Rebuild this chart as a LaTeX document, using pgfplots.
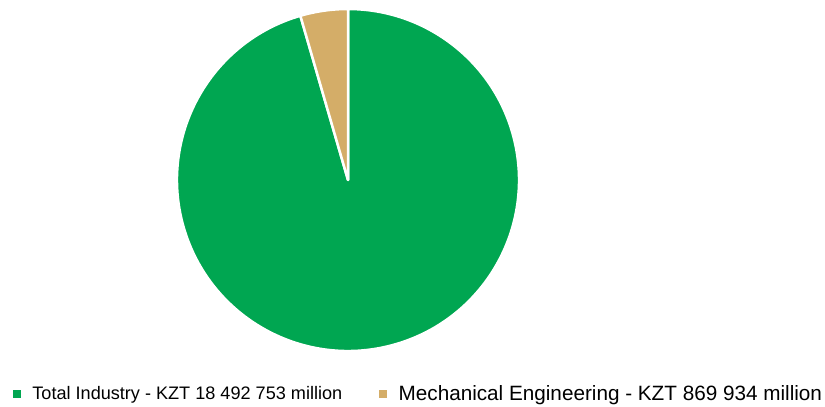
\documentclass[border=0pt]{standalone}
\usepackage{fontspec}
\setmainfont{Liberation Sans}
\usepackage{pgfplots}
\pgfplotsset{compat=1.18}
\definecolor{indgreen}{HTML}{00A651}
\definecolor{mechtan}{HTML}{D4AD68}
\begin{document}
\begin{tikzpicture}
% values in KZT billion (18 492 753 and 869 934 million)
\pgfmathsetmacro{\valA}{18.492753}
\pgfmathsetmacro{\valB}{0.869934}
\pgfmathsetmacro{\angB}{360*\valB/(\valA+\valB)}
\begin{axis}[
  x=1bp, y=1bp,
  xmin=0, xmax=825, ymin=0, ymax=406,
  axis lines=none, clip=false,
  legend columns=2,
  legend image code/.code={\fill[#1] (-3.5bp,-3.5bp) rectangle (3.5bp,3.5bp);},
  legend style={draw=none, fill=none, at={(axis cs:13,12)}, anchor=west,
    inner sep=0pt, outer sep=0pt,
    nodes={inner sep=0pt, anchor=west},
    /tikz/every odd column/.append style={column sep=12bp},
    /tikz/every even column/.append style={column sep=37bp}},
]
\path (axis cs:0,0) rectangle (axis cs:825,406);
\addlegendimage{indgreen}
\addlegendentry{\fontsize{18.1bp}{20bp}\selectfont Total Industry - KZT 18 492 753 million}
\addlegendimage{mechtan}
\addlegendentry{\fontsize{20.7bp}{22bp}\selectfont Mechanical Engineering - KZT 869 934 million}
% pie slices drawn from the values
\fill[indgreen, draw=white, line width=2.5bp, line join=round] (axis cs:348,226) -- ++(90+\angB:171bp) arc[start angle=90+\angB, end angle=450, radius=171bp] -- cycle;
\fill[mechtan, draw=white, line width=2.5bp, line join=round] (axis cs:348,226) -- ++(90:171bp) arc[start angle=90, end angle=90+\angB, radius=171bp] -- cycle;
\end{axis}
\end{tikzpicture}
\end{document}
